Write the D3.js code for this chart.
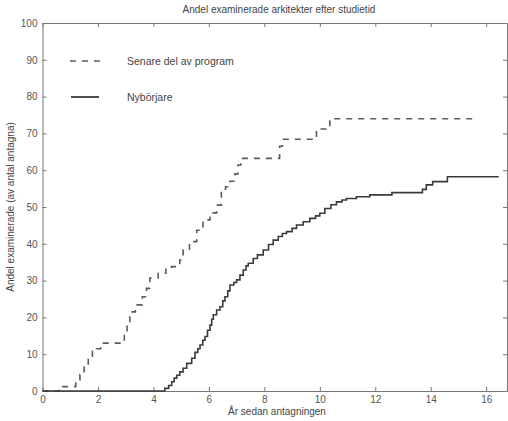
<!DOCTYPE html>
<html>
<head>
<meta charset="utf-8">
<script src="https://cdn.jsdelivr.net/npm/d3@7"></script>
<style>
  body { margin: 0; background: #fff; }
  text { font-family: "Liberation Sans", Arial, sans-serif; fill: #444; }
  .axis path, .axis line { stroke: #777; }
  .axis text { font-size: 10px; fill: #555; }
</style>
</head>
<body>
<div id="chart-area"></div>
<script>

// Data
var senareX = [0, 0.6, 1.15, 1.2, 1.35, 1.5, 1.65, 1.8, 1.95, 2.1, 2.75, 2.95, 3.05, 3.15, 3.35, 3.6, 3.75, 3.87, 4.17, 4.45, 4.65, 4.95, 5.07, 5.3, 5.56, 5.79, 6.04, 6.28, 6.45, 6.6, 6.76, 6.94, 7.05, 7.15, 8.55, 8.65, 9.88, 10.36, 15.5];
var senareY = [0, 1.2, 1.2, 3, 4.5, 7, 9, 10.8, 11.5, 13, 13, 15.8, 18.8, 21.5, 23.4, 25.6, 27.9, 30.7, 32, 33.4, 33.8, 35.6, 38.3, 40.6, 43.7, 46.5, 48.4, 50.5, 54.6, 55.5, 57, 59, 61.4, 63.2, 66.5, 68.4, 71.2, 74, 74];

var nybX = [0, 4.35, 4.41, 4.55, 4.66, 4.75, 4.84, 4.95, 5.07, 5.2, 5.38, 5.5, 5.6, 5.68, 5.78, 5.86, 5.95, 6.04, 6.1, 6.16, 6.28, 6.4, 6.5, 6.58, 6.68, 6.76, 6.9, 7.0, 7.12, 7.24, 7.34, 7.42, 7.6, 7.75, 7.96, 8.15, 8.32, 8.5, 8.65, 8.8, 9.0, 9.16, 9.4, 9.64, 9.85, 10.0, 10.18, 10.4, 10.6, 10.8, 10.96, 11.32, 11.8, 12.6, 13.7, 13.84, 14.07, 14.6, 16.45];
var nybY = [0, 0, 0.7, 1.5, 2.5, 3.5, 4.3, 5.2, 6.2, 7.5, 8.9, 10.5, 11.5, 12.5, 13.8, 14.8, 16.5, 17.9, 19.5, 20.7, 22, 22.9, 24.5, 25.6, 27.2, 28.8, 29.5, 30.2, 31.5, 32.9, 34, 34.7, 36, 37, 38.3, 39.8, 41, 42, 42.8, 43.3, 44.2, 45.1, 46, 46.9, 47.6, 48.3, 49.6, 50.6, 51.4, 51.9, 52.3, 52.8, 53.3, 53.9, 54.8, 56, 56.9, 58.2, 58.2];

var xTicks = [0, 2, 4, 6, 8, 10, 12, 14, 16];
var yTicks = [0, 10, 20, 30, 40, 50, 60, 70, 80, 90, 100];

var seriesNames = ["Senare del av program", "Nybörjare"];

// SVG drawing area
var margin = {top: 23, right: 1, bottom: 30, left: 42.5};
var width = 508 - margin.left - margin.right,
    height = 421 - margin.top - margin.bottom;

var svg = d3.select("#chart-area").append("svg")
    .attr("width", 508)
    .attr("height", 421)
  .append("g")
    .attr("transform", "translate(" + margin.left + "," + margin.top + ")");

// Scales
var x = d3.scaleLinear().domain([0, 16.75]).range([0, width]);
var y = d3.scaleLinear().domain([0, 100]).range([height, 0]);

// Axes (ticks pointing inward, like matlab)
svg.append("g")
    .attr("class", "axis x-axis")
    .attr("transform", "translate(0," + height + ")")
    .call(d3.axisBottom(x).tickValues(xTicks).tickSizeInner(-4).tickSizeOuter(0).tickPadding(5));

svg.append("g")
    .attr("class", "axis y-axis")
    .call(d3.axisLeft(y).tickValues(yTicks).tickSizeInner(-4).tickSizeOuter(0).tickPadding(5));

svg.append("g")
    .attr("class", "axis")
    .call(d3.axisTop(x).tickValues(xTicks).tickSizeInner(-4).tickSizeOuter(0).tickFormat(""));

svg.append("g")
    .attr("class", "axis")
    .attr("transform", "translate(" + width + ",0)")
    .call(d3.axisRight(y).tickValues(yTicks).tickSizeInner(-4).tickSizeOuter(0).tickFormat(""));

// Lines
var line = d3.line()
    .x(function(d) { return x(d[0]); })
    .y(function(d) { return y(d[1]); })
    .curve(d3.curveStepAfter);

var senare = d3.zip(senareX, senareY);
var nyb = d3.zip(nybX, nybY);

svg.append("path")
    .attr("d", line(senare))
    .attr("fill", "none")
    .attr("stroke", "#5a5a5a")
    .attr("stroke-width", 1.6)
    .attr("stroke-dasharray", "6,6");

svg.append("path")
    .attr("d", line(nyb))
    .attr("fill", "none")
    .attr("stroke", "#3a3a3a")
    .attr("stroke-width", 1.6);

// Legend
var legend = svg.append("g").attr("transform", "translate(" + (70 - margin.left) + "," + (61 - margin.top) + ")");
legend.append("line")
    .attr("x1", 0).attr("x2", 30).attr("y1", 0).attr("y2", 0)
    .attr("stroke", "#5a5a5a").attr("stroke-width", 1.6).attr("stroke-dasharray", "6,6");
legend.append("text").attr("x", 57).attr("y", 4).style("font-size", "10.5px").text(seriesNames[0]);
legend.append("line")
    .attr("x1", 1).attr("x2", 29).attr("y1", 36).attr("y2", 36)
    .attr("stroke", "#3a3a3a").attr("stroke-width", 1.8);
legend.append("text").attr("x", 57).attr("y", 40).style("font-size", "10.5px").text(seriesNames[1]);

// Titles
svg.append("text")
    .attr("x", 279 - margin.left).attr("y", 13 - margin.top)
    .attr("text-anchor", "middle")
    .style("font-size", "10px")
    .text("Andel examinerade arkitekter efter studietid");

svg.append("text")
    .attr("x", 277 - margin.left).attr("y", 415 - margin.top)
    .attr("text-anchor", "middle")
    .style("font-size", "10px")
    .text("År sedan antagningen");

svg.append("text")
    .attr("transform", "translate(" + (14 - margin.left) + "," + (height / 2) + ") rotate(-90)")
    .attr("text-anchor", "middle")
    .style("font-size", "10px")
    .text("Andel examinerade (av antal antagna)");

</script>
</body>
</html>
